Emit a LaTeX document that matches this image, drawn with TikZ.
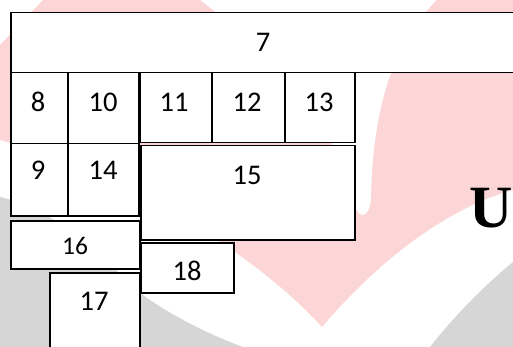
\documentclass[tikz,border=0pt]{standalone}
\usepackage{fontspec}
\setmainfont{Carlito}
\newfontfamily\ufont{Liberation Serif}
\definecolor{wmpink}{RGB}{252,214,214}
\definecolor{wmgray}{RGB}{214,214,214}
\begin{document}
\begin{tikzpicture}[x=1pt,y=-1pt,
  box/.style={draw=black, line width=1.5pt, fill=white, rectangle, inner sep=0pt, anchor=north west},
  lbl/.style={inner sep=0pt, anchor=center, font=\fontsize{28.5}{30}\selectfont},
  lbls/.style={inner sep=0pt, anchor=center, font=\fontsize{25.5}{27}\selectfont}]
\useasboundingbox (0,0) rectangle (513,347);
\clip (0,0) rectangle (513,347);
% watermark background
\fill[wmpink] (43,0) -- (200,0) .. controls (280,60) and (345,140) .. (354,205)
  .. controls (358,218) and (369,220) .. (371,200)
  .. controls (372,130) and (385,50) .. (437,0) -- (513,0) -- (513,190)
  .. controls (440,210) and (370,270) .. (322,327)
  .. controls (280,280) and (170,190) .. (0,140) -- (0,45) -- cycle;
\fill[wmgray] (0,197) .. controls (60,210) and (110,265) .. (140,293)
  .. controls (170,315) and (210,335) .. (243,347) -- (0,347) -- cycle;
\fill[wmgray] (430,347) .. controls (455,315) and (485,285) .. (513,262) -- (513,347) -- cycle;
% boxes
\node[box, minimum width=520pt, minimum height=60pt] (b7) at (10,12) {};
\node[box, minimum width=57pt, minimum height=71pt] (b8) at (10,72) {};
\node[box, minimum width=71pt, minimum height=71pt] (b10) at (67,72) {};
\node[box, minimum width=72pt, minimum height=70pt] (b11) at (139,72) {};
\node[box, minimum width=73pt, minimum height=70pt] (b12) at (211,72) {};
\node[box, minimum width=70pt, minimum height=70pt] (b13) at (284,72) {};
\node[box, minimum width=57pt, minimum height=72pt] (b9) at (10,143) {};
\node[box, minimum width=71pt, minimum height=72pt] (b14) at (67,143) {};
\node[box, minimum width=214pt, minimum height=94pt] (b15) at (140,145) {};
\node[box, minimum width=129pt, minimum height=48pt] (b16) at (10,220) {};
\node[box, minimum width=93pt, minimum height=50pt] (b18) at (140,242) {};
\node[box, minimum width=90pt, minimum height=90pt] (b17) at (49,272) {};
% labels
\node[lbl] (t7) at (263,42) {7};
\node[lbl] (t8) at (38,102) {8};
\node[lbl] (t10) at (103,102) {10};
\node[lbl] (t11) at (174,102) {11};
\node[lbl] (t12) at (247,102) {12};
\node[lbl] (t13) at (319,102) {13};
\node[lbl] (t9) at (38,170) {9};
\node[lbl] (t14) at (103,170) {14};
\node[lbl] (t15) at (247,175) {15};
\node[lbls] (t16) at (75,246) {16};
\node[lbl] (t18) at (187,270.5) {18};
\node[lbl] (t17) at (94,301) {17};
\node[inner sep=0pt, font=\ufont\bfseries\fontsize{60}{60}\selectfont] (u) at (491,208) {U};
\end{tikzpicture}
\end{document}
